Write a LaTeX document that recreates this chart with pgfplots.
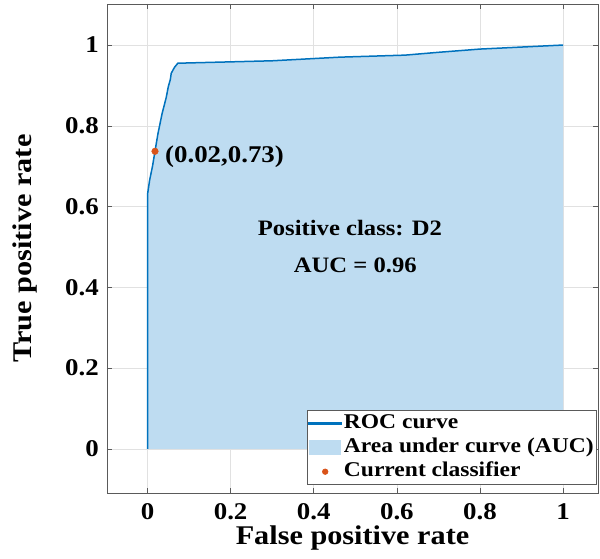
\documentclass[border=0pt]{standalone}
\usepackage{fontspec}
\setmainfont{Liberation Serif}[FakeStretch=1.12]
\usepackage{pgfplots}
\pgfplotsset{compat=1.18}
\definecolor{roc}{RGB}{0,114,189}
\definecolor{auc}{RGB}{190,220,241}
\definecolor{cls}{RGB}{217,83,25}
\definecolor{gridc}{RGB}{225,225,225}
\definecolor{axc}{RGB}{90,90,90}
\begin{document}
\begin{tikzpicture}
\begin{axis}[
  scale only axis, width=491pt, height=489pt,
  xmin=-0.0975, xmax=1.084, ymin=-0.109, ymax=1.1016,
  xtick={0,0.2,0.4,0.6,0.8,1}, ytick={0,0.2,0.4,0.6,0.8,1},
  xticklabels={0,0.2,0.4,0.6,0.8,1}, yticklabels={0,0.2,0.4,0.6,0.8,1},
  grid=major, grid style={gridc, line width=0.6pt},
  axis line style={axc, line width=0.8pt},
  tick style={axc, line width=0.6pt}, tick align=inside, major tick length=5pt,
  ticklabel style={font=\fontsize{24}{24}\selectfont\bfseries, text=black, inner sep=0pt},
  xticklabel style={yshift=-10pt},
  yticklabel style={xshift=-8pt},
  label style={font=\fontsize{27}{27}\selectfont\bfseries},
  xlabel={False positive rate}, ylabel={True positive rate},
  xlabel style={at={(axis description cs:0.5,-0.066)}, anchor=north, inner sep=0pt},
  ylabel style={at={(axis description cs:-0.167,0.5)}, anchor=center, inner sep=0pt},
  legend style={at={(axis description cs:1,0)}, anchor=south east, xshift=-1pt, yshift=8pt,
    draw=axc, line width=0.6pt,
    font=\fontsize{21}{21}\selectfont\bfseries, inner sep=1pt,
    nodes={text height=15pt, text depth=5pt, inner sep=2pt},
    row sep=0pt, column sep=0pt,
    legend cell align=left, fill=white},
]
\addplot[fill=auc, draw=none, forget plot] coordinates {
(0,0) (0,0.63) (0.005,0.665) (0.012,0.70) (0.018,0.737) (0.025,0.78) (0.035,0.83) (0.045,0.87) (0.05,0.897) (0.055,0.915) (0.057,0.93) (0.065,0.945) (0.073,0.955) (0.3,0.961) (0.463,0.970) (0.62,0.975) (0.7,0.982) (0.8,0.99) (0.9,0.995) (1,1)
} \closedcycle;
\addplot[draw=roc, line width=1.5pt, legend image code/.code={\fill[roc] (0pt,-0.75pt) rectangle (32pt,0.75pt);}] coordinates {
(0,0) (0,0.63) (0.005,0.665) (0.012,0.70) (0.018,0.737) (0.025,0.78) (0.035,0.83) (0.045,0.87) (0.05,0.897) (0.055,0.915) (0.057,0.93) (0.065,0.945) (0.073,0.955) (0.3,0.961) (0.463,0.970) (0.62,0.975) (0.7,0.982) (0.8,0.99) (0.9,0.995) (1,1)
};
\addlegendentry{ROC curve}
\addlegendimage{area legend, fill=auc, draw=none, legend image code/.code={\fill[auc] (0pt,-7.5pt) rectangle (32pt,7.5pt);}}
\addlegendentry{Area under curve (AUC)}
\addplot[only marks, mark=*, mark size=3.3pt, cls, legend image code/.code={\fill[cls] (16pt,0pt) circle (2.8pt);}] coordinates {(0.018,0.737)};
\addlegendentry{Current classifier}
\node[anchor=base west, inner sep=0pt, font=\fontsize{24}{24}\selectfont\bfseries] at (axis cs:0.042,0.71) {(0.02,0.73)};
\node[anchor=base, inner sep=0pt, font=\fontsize{22}{22}\selectfont\bfseries] at (axis cs:0.487,0.529) {Positive class: D2};
\node[anchor=base, inner sep=0pt, font=\fontsize{22}{22}\selectfont\bfseries] at (axis cs:0.5,0.437) {AUC = 0.96};
\end{axis}
\pgfresetboundingbox
\path[use as bounding box] ([xshift=-107pt,yshift=-66pt]current axis.south west) rectangle ([xshift=2pt,yshift=4pt]current axis.north east);
\end{tikzpicture}
\end{document}
